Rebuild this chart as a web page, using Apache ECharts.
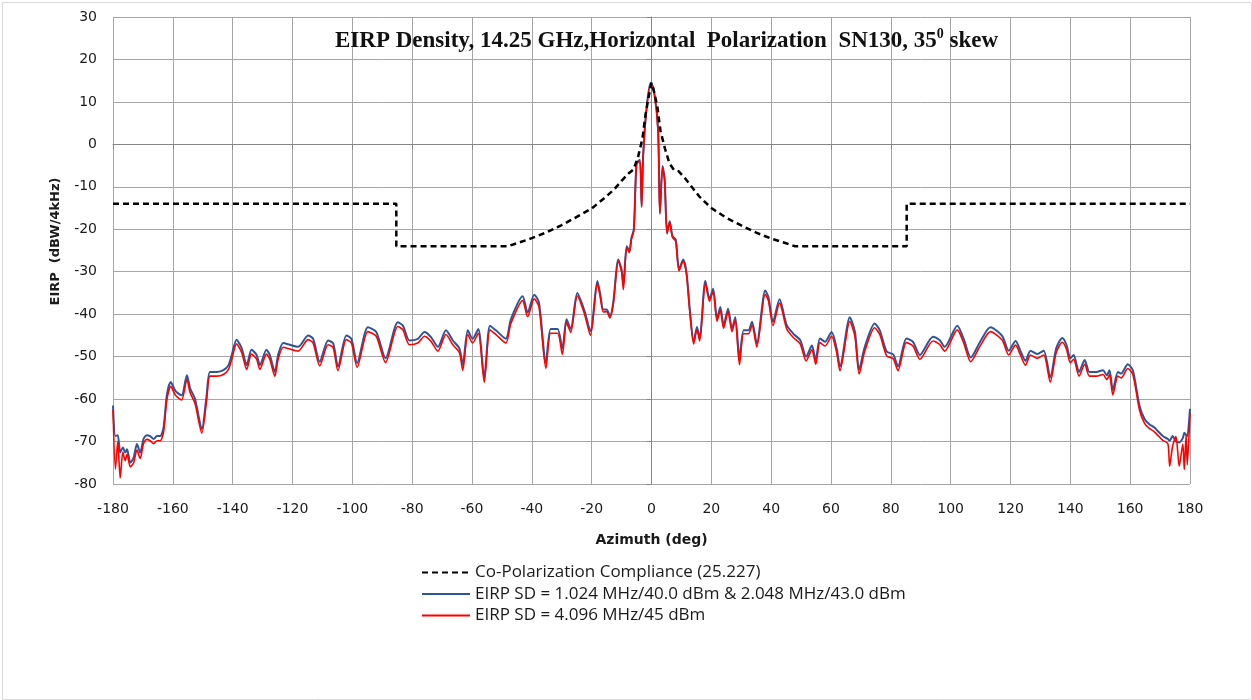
<!DOCTYPE html>
<html>
<head>
<meta charset="utf-8">
<script src="https://cdn.jsdelivr.net/npm/echarts@6/dist/echarts.min.js"></script>
<style>
  html, body { margin: 0; padding: 0; background: #fff; }
  #chart { width: 1252px; height: 700px; }
</style>
</head>
<body>
<div id="chart"></div>
<script>
// Compliance mask (dBW/4kHz) versus azimuth
const maskAz  = [-180, -85.3, -85.3, -48, -45, -40, -35, -30, -25, -20, -16, -12.6, -10, -7.6, -6, -4.5, -3, -2, -1, 0, 1, 2, 3, 4.5, 6, 7.5, 9, 11, 13, 16, 20, 25, 30, 35, 40, 45, 48, 85.3, 85.3, 180];
const maskVal = [-14, -14, -24, -24, -23.3, -22.1, -20.7, -19, -17.1, -15.1, -12.8, -10.7, -8.6, -6.8, -5.9, -3, 1.5, 7, 11, 14.5, 12, 8.6, 3.2, -1, -4.5, -6, -6.3, -7.8, -9.6, -12.3, -15, -17.3, -19.1, -20.8, -22.2, -23.3, -24, -24, -14, -14];

// Measured azimuth points (deg)
const azimuth = [
  -180, -179.2, -178.4, -177.6, -176.7, -175.9, -175.3, -174.2, -173.1, -172, -170.9, -169.8, -168.7, -167.6, -166.4, -165.3, -164.2, -163.1,
  -162, -160.7, -159.2, -158.1, -157, -155.3, -154.2, -152.6, -150.3, -148.7, -147.6, -145.3, -143.1, -141.4, -140.3, -138.7, -137, -135.3,
  -133.7, -132, -130.9, -128.7, -127.6, -125.9, -124.8, -123.1, -120.9, -118.1, -114.8, -113.1, -110.9, -108.1, -106.4, -104.8, -102, -100.3,
  -98.4, -94.8, -92, -88.9, -84.8, -83.1, -80.9, -78.1, -75.9, -73.7, -71.4, -68.7, -66.4, -64.2, -63.1, -61.4, -59.8, -57.9, -55.9, -54,
  -52, -48.7, -47, -43.1, -41.4, -39.2, -37.6, -35.3, -33.7, -31.4, -29.8, -28.4, -27, -24.8, -22.5, -20.4, -18.1, -17.2, -16.1, -15,
  -13.9, -12.8, -11.1, -10, -9.4, -8.3, -7.4, -6.7, -5.9, -5, -3.9, -3.3, -2.8, -1.7, -0.3, 0.8, 2.2, 2.8, 3.7, 4.4, 5.2, 6.1, 7, 8.1,
  9.2, 10.6, 11.7, 12.8, 14.1, 15.2, 16.1, 18, 19.4, 20.6, 21.9, 23, 24.1, 25.6, 26.9, 28, 29.4, 30.8, 32.4, 33.6, 35.2, 38, 39.1, 40.6,
  42.8, 45.2, 47.4, 49.7, 51.7, 53.6, 54.9, 56.3, 58, 60.2, 61.9, 63, 66.3, 68, 69.4, 71.3, 74.6, 76.3, 78.6, 80.8, 82.4, 85.2, 87.4, 89.7,
  94.1, 96.3, 98, 102.2, 104.4, 106.7, 110, 113.3, 117.2, 119.4, 121.7, 123.3, 125, 126.7, 128.9, 131.1, 133.3, 135.3, 137.3, 138.7, 140,
  141.1, 142.9, 144.8, 146.4, 148.7, 150.9, 152.2, 153.1, 154.2, 155.9, 157, 159.2, 160.9, 163.1, 164.8, 166.4, 168.1, 169.2, 170.9,
  172.6, 173.2, 174.2, 175.3, 176.4, 177.6, 178.1, 178.7, 179.1, 180
];

// EIRP SD = 1.024 MHz/40.0 dBm & 2.048 MHz/43.0 dBm
const eirpLow = [
  -61.5, -68.7, -68.5, -72.6, -71.4, -72.6, -71.8, -75, -73.8, -70.6, -72.6, -69.4, -68.5, -68.7, -69.4, -68.7, -68.7, -66.7,
  -59.1, -56, -58, -58.7, -59.1, -54.4, -57.5, -59.9, -67.1, -59.1, -53.6, -53.6, -53.2, -52, -49.6, -46, -48, -52,
  -48.4, -49.6, -52, -48.4, -49.6, -53.6, -49.6, -46.8, -47.2, -47.7, -45, -45.8, -51.2, -46.2, -46.9, -52.3, -45, -45.8,
  -51.5, -43.1, -44.2, -50.4, -41.9, -42.7, -46.2, -45.8, -44.2, -45.4, -47.7, -43.8, -46.2, -48.1, -51.9, -43.8, -45.8, -43.5, -55, -42.7,
  -43.8, -45.8, -41.2, -35.8, -39.6, -35.4, -37.3, -51.5, -43.5, -43.5, -48.1, -41.2, -43.5, -35, -39, -44, -32.2, -35, -38.9, -38.9,
  -40.4, -37.3, -27.1, -29.5, -33, -24, -25.1, -22, -20, -4.4, -3.6, -14.5, -2.8, 8.2, 14.5, 12.9, 3.5, -16.1, -5.1, -8.3, -20.8, -18.1, -21.6, -22.4,
  -29.4, -27.1, -30.2, -38.9, -46.5, -43, -45.7, -32.1, -36.4, -34, -41, -38.3, -42.6, -38.7, -43.4, -40.7, -50.4, -43.8, -43.8, -41.8, -46.9, -34.4, -36, -41.8,
  -36.5, -42.6, -44.6, -46.1, -50, -47.4, -50.8, -45.7, -46.5, -44.2, -48.1, -52.3, -40.7, -44.2, -53.1, -47.7, -42.2, -43.8, -48.8, -49.5, -52.3, -45.7, -46.5, -49.6,
  -45.3, -46.1, -47.7, -42.7, -45.9, -50.2, -46.3, -43.1, -45.1, -48.6, -46.3, -48.6, -51, -48.6, -49.4, -48.6, -54.9, -48, -45.6, -47.2, -50.4,
  -49.6, -53.6, -50.8, -53.6, -53.6, -53.2, -54.4, -53.2, -57.9, -53.6, -54, -51.8, -53.2, -61.5, -64.7, -65.9, -66.7, -67.5, -68.7,
  -69.4, -69.8, -68.7, -70, -70.2, -69.2, -67.9, -68.5, -68.7, -62.3
];

// EIRP SD = 4.096 MHz/45 dBm
const eirpHigh = [
  -62.5, -76.5, -70, -78.6, -72.5, -74.5, -73, -76, -75, -72, -74, -70.5, -69.5, -69.8, -70.5, -69.8, -69.8, -67.8,
  -60.2, -57, -59, -59.8, -60.2, -55.4, -58.5, -61, -68, -60.2, -54.6, -54.6, -54.2, -53, -50.6, -47, -49, -53,
  -49.4, -50.6, -53, -49.4, -50.6, -54.6, -50.6, -47.8, -48.2, -48.7, -46, -46.8, -52.2, -47.2, -47.9, -53.3, -46, -46.8,
  -52.5, -44.1, -45.2, -51.4, -42.9, -43.7, -47.2, -46.8, -45.2, -46.4, -48.7, -44.8, -47.2, -49.1, -53.2, -44.8, -46.8, -44.5, -56, -43.7,
  -44.8, -46.8, -42.2, -36.8, -40.6, -36.4, -38.3, -52.8, -44.5, -44.5, -49.5, -42, -44.3, -35.7, -39.7, -45, -32.8, -35.6, -39.5, -39.4,
  -40.9, -37.8, -27.5, -30, -34.2, -24.3, -25.5, -22.3, -20.3, -4.7, -3.9, -14.8, -3.1, 7.9, 14.1, 12.6, 3.2, -16.4, -5.4, -8.6, -21.1, -18.4, -21.9, -22.8,
  -29.8, -27.5, -30.6, -39.4, -47, -43.6, -46.3, -32.7, -37, -34.6, -41.7, -39, -43.3, -39.4, -44.1, -41.4, -51.9, -44.6, -44.6, -42.6, -47.7, -35.3, -36.9, -42.7,
  -37.4, -43.5, -45.5, -47, -51, -48.4, -51.8, -46.7, -47.5, -45.2, -49.1, -53.3, -41.7, -45.2, -54.1, -48.7, -43.2, -44.8, -49.8, -50.5, -53.3, -46.7, -47.5, -50.6,
  -46.3, -47.1, -48.7, -43.7, -46.9, -51.2, -47.3, -44.1, -46.1, -49.6, -47.3, -49.6, -52, -49.6, -50.4, -49.6, -56, -49, -46.6, -48.2, -51.4,
  -50.6, -54.6, -51.8, -54.6, -54.6, -54.2, -55.4, -54.2, -59, -54.6, -55, -52.8, -54.2, -62.5, -65.7, -66.9, -67.7, -68.5, -69.7,
  -70.5, -75.8, -71, -68.8, -75.8, -70.6, -76.6, -68.4, -75.5, -63.2
];

const pairs = (xs, ys) => xs.map((x, i) => [x, ys[i]]);

const chart = echarts.init(document.getElementById('chart'), null, { renderer: 'canvas' });

const tickFont = { fontFamily: 'DejaVu Sans', fontSize: 14, color: '#1a1a1a' };

chart.setOption({
  animation: false,
  backgroundColor: '#ffffff',
  grid: { left: 113, right: 62, top: 17, bottom: 216, containLabel: false },
  xAxis: {
    type: 'value', min: -180, max: 180, interval: 20,
    name: 'Azimuth (deg)', nameLocation: 'middle', nameGap: 49,
    nameTextStyle: { fontFamily: 'DejaVu Sans', fontSize: 14, fontWeight: 'bold', color: '#1a1a1a' },
    axisLabel: Object.assign({ margin: 18 }, tickFont),
    axisLine: { lineStyle: { color: '#868686', width: 1 } },
    axisTick: { show: true, length: 5, lineStyle: { color: '#868686' } },
    splitLine: { show: true, lineStyle: { color: '#A6A6A6', width: 1 } }
  },
  yAxis: {
    type: 'value', min: -80, max: 30, interval: 10,
    name: 'EIRP  (dBW/4kHz)', nameLocation: 'middle', nameGap: 51, nameRotate: 90,
    nameTextStyle: { fontFamily: 'DejaVu Sans', fontSize: 13, fontWeight: 'bold', color: '#1a1a1a', padding: [0, 0, 0, 18] },
    axisLabel: Object.assign({ margin: 16 }, tickFont),
    axisLine: { show: true, lineStyle: { color: '#868686', width: 1 } },
    axisTick: { show: true, length: 5, lineStyle: { color: '#868686' } },
    splitLine: { show: true, lineStyle: { color: '#A6A6A6', width: 1 } }
  },
  legend: {
    orient: 'vertical', left: 416, top: 559,
    itemWidth: 48, itemHeight: 14, itemGap: 4.5,
    itemStyle: { opacity: 0 },
    textStyle: { fontFamily: 'Open Sans', fontSize: 17, lineHeight: 17, color: '#1a1a1a' },
    data: ['Co-Polarization Compliance (25.227)',
           'EIRP SD = 1.024 MHz/40.0 dBm & 2.048 MHz/43.0 dBm',
           'EIRP SD = 4.096 MHz/45 dBm']
  },
  graphic: [
    {
      type: 'rect', left: 0, top: 0, z: -10, silent: true,
      shape: { x: 0.5, y: 0.5, width: 1249, height: 697 },
      style: { fill: 'none', stroke: '#D9D9D9', lineWidth: 1 }
    },
    {
      type: 'text', left: 335, top: 27, z: 100,
      style: {
        text: '{t|EIRP Density, 14.25 GHz,Horizontal  Polarization  SN130, 35}{s|0}{t| skew}',
        rich: {
          t: { fontFamily: 'Liberation Serif', fontSize: 23, fontWeight: 'bold', fill: '#111', lineHeight: 28 },
          s: { fontFamily: 'Liberation Serif', fontSize: 14, fontWeight: 'bold', fill: '#111', verticalAlign: 'top', lineHeight: 28, padding: [0, 0, 10, 0] }
        }
      }
    }
  ],
  series: [
    {
      name: 'Co-Polarization Compliance (25.227)', type: 'line',
      data: pairs(maskAz, maskVal), showSymbol: false, symbol: 'none',
      lineStyle: { color: '#000000', width: 2.5, type: [6, 4] },
      itemStyle: { color: '#000000' }, z: 5
    },
    {
      name: 'EIRP SD = 1.024 MHz/40.0 dBm & 2.048 MHz/43.0 dBm', type: 'line',
      data: pairs(azimuth, eirpLow), showSymbol: false, symbol: 'none', smooth: 0.25,
      lineStyle: { color: '#2F5597', width: 2 },
      itemStyle: { color: '#2F5597' }, z: 3
    },
    {
      name: 'EIRP SD = 4.096 MHz/45 dBm', type: 'line',
      data: pairs(azimuth, eirpHigh), showSymbol: false, symbol: 'none', smooth: 0.25,
      lineStyle: { color: '#FF0000', width: 1.6 },
      itemStyle: { color: '#FF0000' }, z: 4
    }
  ]
});
</script>
</body>
</html>
